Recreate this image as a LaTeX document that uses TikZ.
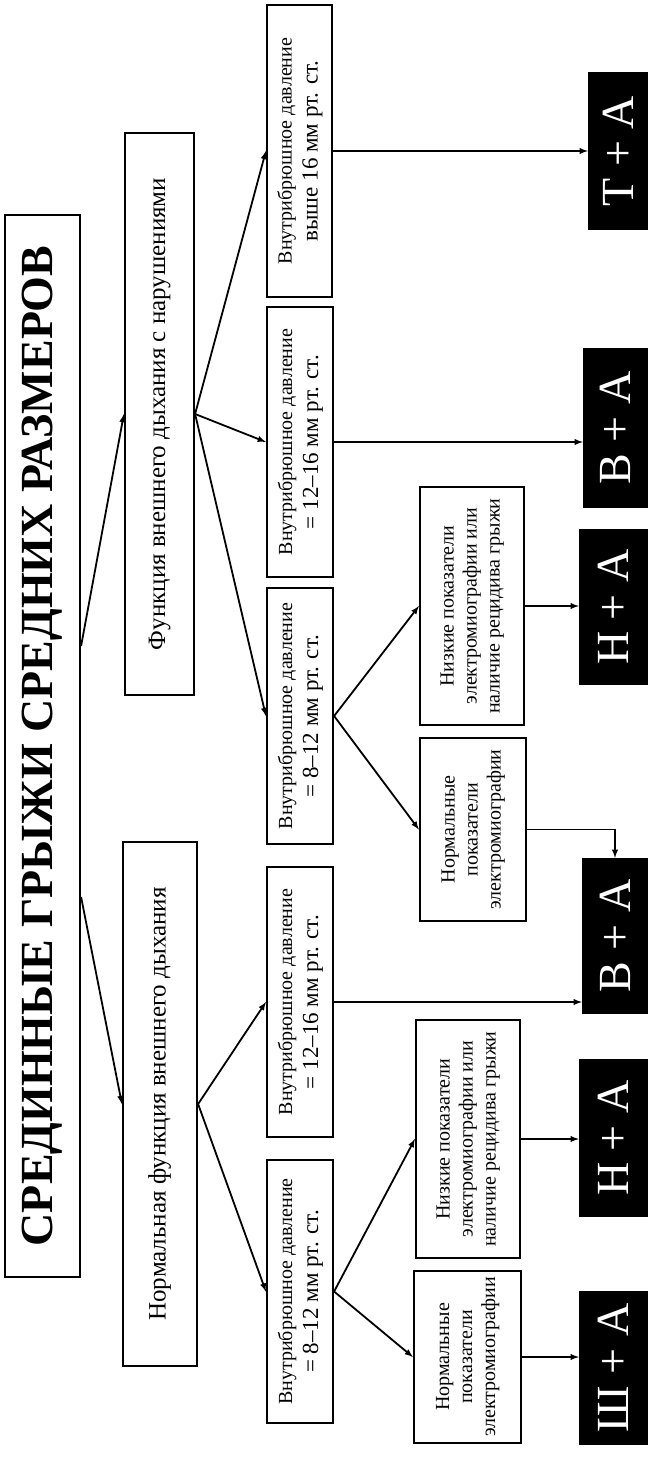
\documentclass[tikz,border=0pt]{standalone}
\usepackage{fontspec}
\setmainfont{Liberation Serif}
\usetikzlibrary{positioning}

\newcommand{\vt}[2][]{\rotatebox{90}{#1\begin{tabular}{@{}c@{}}#2\end{tabular}}}
\newcommand{\fsm}{\fontsize{20}{26}\selectfont}
\newcommand{\fmd}{\fontsize{23}{26}\selectfont}
\newcommand{\femg}{\fontsize{20}{23}\selectfont}
\newcommand{\fbg}{\fontsize{25}{28}\selectfont}

\begin{document}
\begin{tikzpicture}[x=1pt, y=-1pt,
    box/.style={draw, line width=2.2pt, inner sep=0pt, align=center},
    res/.style={fill=black, text=white, inner sep=0pt, font=\fontsize{46}{46}\selectfont},
    arr/.style={->, >=latex, line width=1.8pt}]
    \useasboundingbox (0,0) rectangle (648,1460);

    % title
    \node[box, minimum width=75pt, minimum height=1062pt] (title) at (42.5,746)
        {\vt[\fontsize{46}{48}\selectfont\bfseries]{СРЕДИННЫЕ ГРЫЖИ СРЕДНИХ РАЗМЕРОВ}};

    % breathing function
    \node[box, minimum width=69pt, minimum height=562pt] (bad) at (159.5,414)
        {\vt[\fbg]{Функция внешнего дыхания с нарушениями}};
    \node[box, minimum width=74pt, minimum height=524pt] (norm) at (160,1104)
        {\vt[\fbg]{Нормальная функция внешнего дыхания}};

    % pressure
    \node[box, minimum width=65pt, minimum height=292pt] (hi) at (299.5,151)
        {\vt[\fmd]{{\fsm Внутрибрюшное давление}\\ выше 16 мм рт. ст.}};
    \node[box, minimum width=66pt, minimum height=270pt] (mid1) at (300,442)
        {\vt[\fmd]{{\fsm Внутрибрюшное давление}\\ = 12–16 мм рт. ст.}};
    \node[box, minimum width=66pt, minimum height=256pt] (low1) at (300,716)
        {\vt[\fmd]{{\fsm Внутрибрюшное давление}\\ = 8–12 мм рт. ст.}};
    \node[box, minimum width=66pt, minimum height=270pt] (mid2) at (300,1002)
        {\vt[\fmd]{{\fsm Внутрибрюшное давление}\\ = 12–16 мм рт. ст.}};
    \node[box, minimum width=66pt, minimum height=263pt] (low2) at (300,1291.5)
        {\vt[\fmd]{{\fsm Внутрибрюшное давление}\\ = 8–12 мм рт. ст.}};

    % electromyography
    \node[box, minimum width=104pt, minimum height=238pt] (emgl1) at (472,606)
        {\vt[\femg]{Низкие показатели\\ электромиографии или\\ наличие рецидива грыжи}};
    \node[box, minimum width=106pt, minimum height=183pt] (emgn1) at (473,829.5)
        {\vt[\femg]{Нормальные\\ показатели\\ электромиографии}};
    \node[box, minimum width=104pt, minimum height=238pt] (emgl2) at (468,1139)
        {\vt[\femg]{Низкие показатели\\ электромиографии или\\ наличие рецидива грыжи}};
    \node[box, minimum width=107pt, minimum height=172pt] (emgn2) at (467.5,1357)
        {\vt[\femg]{Нормальные\\ показатели\\ электромиографии}};

    % results
    \node[res, minimum width=60pt, minimum height=158pt] (ta) at (618,151) {\rotatebox{90}{Т + А}};
    \node[res, minimum width=65pt, minimum height=160pt] (va1) at (615.5,428) {\rotatebox{90}{В + А}};
    \node[res, minimum width=69pt, minimum height=156pt] (na1) at (613.5,607) {\rotatebox{90}{Н + А}};
    \node[res, minimum width=66pt, minimum height=156pt] (va2) at (615,936) {\rotatebox{90}{В + А}};
    \node[res, minimum width=69pt, minimum height=158pt] (na2) at (613.5,1138) {\rotatebox{90}{Н + А}};
    \node[res, minimum width=69pt, minimum height=154pt] (sa) at (613.5,1368) {\rotatebox{90}{Ш + А}};

    \draw[arr] (title.east |- 0,646) -- (bad.west);
    \draw[arr] (title.east |- 0,897) -- (norm.west);

    \draw[arr] (bad.east) -- (hi.west);
    \draw[arr] (bad.east) -- (mid1.west);
    \draw[arr] (bad.east) -- (low1.west);
    \draw[arr] (norm.east) -- (mid2.west);
    \draw[arr] (norm.east) -- (low2.west);

    \draw[arr] (low1.east) -- (emgl1.west);
    \draw[arr] (low1.east) -- (emgn1.west);
    \draw[arr] (low2.east) -- (emgl2.west);
    \draw[arr] (low2.east) -- (emgn2.west);

    \draw[arr] (hi.east) -- (hi.east -| ta.west);
    \draw[arr] (mid1.east) -- (mid1.east -| va1.west);
    \draw[arr] (emgl1.east) -- (emgl1.east -| na1.west);
    \draw[arr] (emgn1.east) -| (va2.north);
    \draw[arr] (mid2.east) -- (mid2.east -| va2.west);
    \draw[arr] (emgl2.east) -- (emgl2.east -| na2.west);
    \draw[arr] (emgn2.east) -- (emgn2.east -| sa.west);
\end{tikzpicture}
\end{document}
